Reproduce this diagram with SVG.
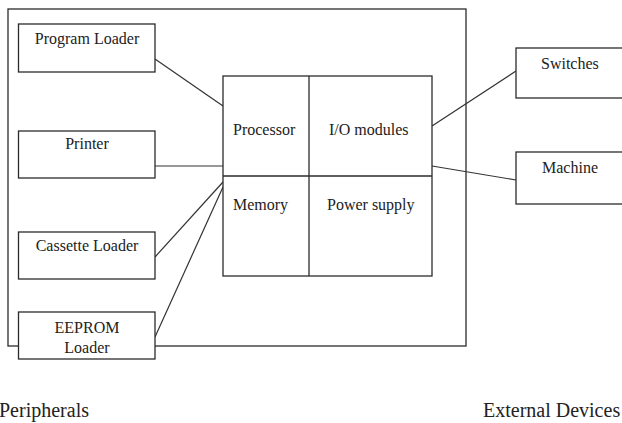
<svg xmlns="http://www.w3.org/2000/svg" width="622" height="423" viewBox="0 0 622 423" font-family="'Liberation Serif', 'Times New Roman', 'DejaVu Serif', serif">
<style>
.b{fill:#fff;stroke:#2b2b2b;stroke-width:1.3}
.o{fill:none;stroke:#2b2b2b;stroke-width:1.3}
.c{fill:none;stroke:#333;stroke-width:1.2}
text{font-family:'Liberation Serif','Times New Roman','DejaVu Serif',serif;font-size:16px;fill:#222}
.m{text-anchor:middle}
.big{font-size:20px}
</style>
<rect width="622" height="423" fill="#fff"/>
<g id="system">
<rect class="o" x="8" y="9" width="458" height="337"/>
</g>
<g id="connectors">
<line class="c" x1="155" y1="59" x2="223" y2="106"/>
<line class="c" x1="155" y1="166" x2="223" y2="166"/>
<line class="c" x1="155" y1="257" x2="223" y2="182"/>
<line class="c" x1="155" y1="337" x2="223" y2="187"/>
<line class="c" x1="432" y1="126" x2="516" y2="71"/>
<line class="c" x1="432" y1="166" x2="516" y2="180"/>
</g>
<g id="program-loader">
<rect class="b" x="18.5" y="24" width="136.5" height="48"/>
<text class="m" x="87" y="44" font-family="'Liberation Serif', serif">Program Loader</text>
</g>
<g id="printer">
<rect class="b" x="18.5" y="131" width="136.5" height="47"/>
<text class="m" x="87" y="149" font-family="'Liberation Serif', serif">Printer</text>
</g>
<g id="cassette-loader">
<rect class="b" x="18.5" y="232" width="136.5" height="47"/>
<text class="m" x="87" y="251" font-family="'Liberation Serif', serif">Cassette Loader</text>
</g>
<g id="eeprom-loader">
<rect class="b" x="18.5" y="312" width="136.5" height="47"/>
<text class="m" x="87" y="333" font-family="'Liberation Serif', serif">EEPROM</text>
<text class="m" x="87" y="353" font-family="'Liberation Serif', serif">Loader</text>
</g>
<g id="core">
<rect class="b" x="223" y="76" width="209" height="200"/>
<line class="o" x1="309" y1="76" x2="309" y2="276"/>
<line class="o" x1="223" y1="176" x2="432" y2="176"/>
</g>
<g id="processor"><text x="233" y="135" font-family="'Liberation Serif', serif">Processor</text></g>
<g id="io-modules"><text x="329" y="135" font-family="'Liberation Serif', serif">I/O modules</text></g>
<g id="memory"><text x="233" y="210" font-family="'Liberation Serif', serif">Memory</text></g>
<g id="power-supply"><text x="327" y="210" font-family="'Liberation Serif', serif">Power supply</text></g>
<g id="switches">
<rect class="b" x="516" y="48" width="120" height="50"/>
<text x="541" y="69" font-family="'Liberation Serif', serif">Switches</text>
</g>
<g id="machine">
<rect class="b" x="516" y="152" width="120" height="52"/>
<text x="542" y="173" font-family="'Liberation Serif', serif">Machine</text>
</g>
<text class="big" x="-1" y="417" font-family="'Liberation Serif', serif">Peripherals</text>
<text class="big" x="483" y="417" font-family="'Liberation Serif', serif">External Devices</text>
</svg>
